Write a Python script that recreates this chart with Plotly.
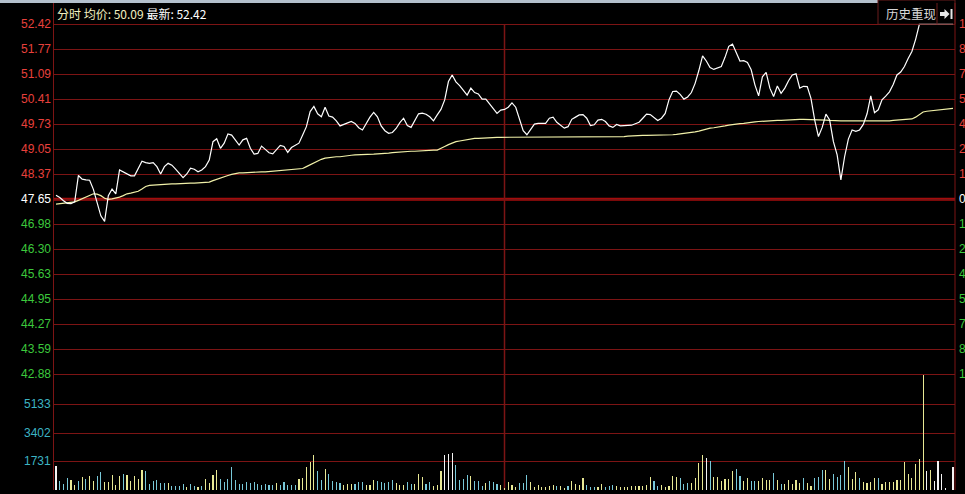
import plotly.graph_objects as go

W, H = 965, 494

# ---------------- data ----------------
prev_close = 47.65
limit_up = 52.42
limit_down = 42.88
avg_label = "50.09"
last_label = "52.42"

prices = [
    47.76, 47.70, 47.61, 47.54, 47.53, 47.58, 48.30, 48.20, 48.18, 48.17,
    47.92, 47.59, 47.20, 47.05, 47.75, 47.93, 47.80, 48.45, 48.40, 48.36,
    48.29, 48.29, 48.50, 48.69, 48.65, 48.63, 48.65, 48.54, 48.34, 48.54,
    48.63, 48.58, 48.47, 48.34, 48.24, 48.34, 48.50, 48.47, 48.40, 48.45,
    48.54, 48.72, 49.22, 49.30, 49.04, 49.18, 49.43, 49.40, 49.27, 49.13,
    49.27, 49.31, 49.04, 48.88, 48.90, 49.10, 49.01, 48.92, 48.89, 49.01,
    49.12, 49.09, 48.93, 49.06, 49.12, 49.18, 49.40, 49.63, 50.04, 50.18,
    49.98, 49.90, 50.16, 49.92, 49.89, 49.79, 49.65, 49.69, 49.73, 49.77,
    49.72, 49.60, 49.54, 49.72, 49.89, 50.02, 49.90, 49.65, 49.52, 49.45,
    49.47, 49.58, 49.74, 49.86, 49.66, 49.61, 49.81, 49.98, 50.00, 49.97,
    49.90, 49.79, 49.95, 50.10, 50.36, 50.86, 51.04, 50.85, 50.75, 50.63,
    50.49, 50.68, 50.56, 50.52, 50.38, 50.38, 50.25, 50.10, 49.99, 50.08,
    50.10, 50.16, 50.28, 50.16, 49.86, 49.52, 49.41, 49.54, 49.70, 49.72,
    49.72, 49.72, 49.86, 49.89, 49.75, 49.68, 49.59, 49.63, 49.83, 49.89,
    49.95, 49.96, 49.86, 49.66, 49.68, 49.81, 49.83, 49.77, 49.65, 49.61,
    49.69, 49.65, 49.65, 49.65, 49.67, 49.71, 49.75, 49.86, 49.97, 49.96,
    49.88, 49.80, 49.86, 49.99, 50.36, 50.59, 50.60, 50.51, 50.38, 50.44,
    50.56, 50.81, 51.16, 51.56, 51.42, 51.24, 51.19, 51.22, 51.27, 51.52,
    51.82, 51.88, 51.63, 51.42, 51.43, 51.38, 51.18, 50.77, 50.47, 50.99,
    51.11, 50.68, 50.45, 50.74, 50.54, 50.68, 50.88, 51.04, 51.07, 50.68,
    50.73, 50.72, 50.40, 49.81, 49.36, 49.61, 49.97, 49.81, 49.22, 48.86,
    48.18, 48.81, 49.29, 49.54, 49.50, 49.54, 49.69, 49.98, 50.47, 50.01,
    50.09, 50.36, 50.46, 50.58, 50.78, 51.04, 51.12, 51.27, 51.49, 51.68,
    52.01, 52.42, 52.42, 52.42, 52.42, 52.42, 52.42, 52.42, 52.42, 52.42,
    52.42,
]

avg_prices = [
    47.52, 47.53, 47.55, 47.56, 47.57, 47.58, 47.62, 47.67, 47.72, 47.77,
    47.80, 47.79, 47.75, 47.68, 47.65, 47.66, 47.68, 47.71, 47.75, 47.80,
    47.82, 47.84, 47.87, 47.93, 48.00, 48.03, 48.04, 48.05, 48.06, 48.07,
    48.07, 48.07, 48.07, 48.08, 48.08, 48.09, 48.09, 48.09, 48.10, 48.10,
    48.10, 48.12, 48.16, 48.20, 48.23, 48.26, 48.30, 48.33, 48.36, 48.37,
    48.37, 48.38, 48.38, 48.39, 48.40, 48.40, 48.40, 48.41, 48.42, 48.42,
    48.43, 48.44, 48.45, 48.46, 48.47, 48.48, 48.49, 48.54, 48.59, 48.65,
    48.71, 48.74, 48.77, 48.79, 48.80, 48.81, 48.81, 48.83, 48.84, 48.85,
    48.86, 48.86, 48.86, 48.86, 48.87, 48.88, 48.89, 48.89, 48.90, 48.91,
    48.92, 48.93, 48.94, 48.94, 48.95, 48.96, 48.96, 48.97, 48.98, 48.99,
    48.99, 48.99, 48.99, 49.03, 49.09, 49.14, 49.19, 49.22, 49.24, 49.26,
    49.28, 49.30, 49.31, 49.31, 49.32, 49.33, 49.33, 49.34, 49.34, 49.34,
    49.34, 49.34, 49.34, 49.34, 49.34, 49.34, 49.34, 49.34, 49.35, 49.36,
    49.36, 49.36, 49.36, 49.36, 49.36, 49.36, 49.36, 49.36, 49.36, 49.36,
    49.36, 49.36, 49.36, 49.36, 49.36, 49.36, 49.36, 49.36, 49.36, 49.36,
    49.36, 49.36, 49.36, 49.37, 49.38, 49.39, 49.39, 49.39, 49.39, 49.39,
    49.39, 49.39, 49.40, 49.40, 49.41, 49.41, 49.42, 49.43, 49.44, 49.45,
    49.47, 49.49, 49.51, 49.54, 49.57, 49.59, 49.60, 49.61, 49.63, 49.65,
    49.67, 49.69, 49.70, 49.71, 49.72, 49.74, 49.75, 49.76, 49.77, 49.78,
    49.79, 49.79, 49.79, 49.80, 49.80, 49.81, 49.81, 49.82, 49.82, 49.83,
    49.83, 49.83, 49.83, 49.83, 49.82, 49.81, 49.81, 49.80, 49.79, 49.79,
    49.79, 49.79, 49.79, 49.79, 49.78, 49.78, 49.77, 49.77, 49.78, 49.78,
    49.78, 49.79, 49.79, 49.79, 49.80, 49.81, 49.81, 49.82, 49.83, 49.84,
    49.89, 49.95, 50.03, 50.05, 50.06, 50.08, 50.09, 50.10, 50.11, 50.12,
    50.13,
]

volumes = [
    1440, 540, 360, 720, 600, 300, 540, 780, 660, 840,
    540, 820, 1080, 500, 500, 900, 300, 840, 960, 900,
    540, 840, 660, 1200, 1140, 360, 540, 600, 420, 420,
    420, 240, 240, 240, 360, 180, 360, 240, 180, 240,
    660, 420, 900, 1200, 660, 480, 660, 1380, 600, 360,
    360, 480, 420, 480, 360, 300, 360, 300, 300, 420,
    300, 480, 300, 300, 300, 660, 720, 1380, 1680, 2080,
    1140, 600, 1260, 960, 540, 480, 420, 300, 360, 360,
    360, 480, 480, 300, 300, 600, 540, 480, 420, 480,
    600, 420, 300, 300, 480, 360, 360, 960, 780, 360,
    480, 240, 300, 1140, 2100, 2160, 2220, 1500, 600, 660,
    900, 840, 540, 540, 240, 420, 540, 480, 360, 300,
    120, 480, 300, 180, 420, 420, 900, 480, 180, 300,
    180, 180, 240, 300, 240, 240, 120, 240, 540, 360,
    300, 720, 300, 180, 180, 180, 360, 180, 240, 300,
    240, 180, 180, 180, 240, 240, 240, 240, 300, 780,
    540, 240, 300, 180, 240, 840, 780, 720, 360, 420,
    420, 720, 1620, 2100, 1920, 1740, 780, 780, 540, 660,
    660, 1140, 1260, 840, 540, 720, 540, 540, 540, 720,
    600, 600, 1020, 600, 360, 360, 600, 360, 600, 420,
    720, 420, 240, 720, 780, 1200, 1200, 660, 960, 780,
    900, 1740, 1380, 660, 1080, 720, 480, 420, 480, 720,
    720, 360, 480, 480, 480, 600, 600, 1680, 960, 720,
    1560, 1860, 6864, 1140, 1200, 540, 1740, 960, 120, 0,
    1380,
]

# per-bar direction as shown by the bar colour: u = up, d = down, e = even
vol_side = [
    "e", "d", "d", "d", "u", "u", "d", "u", "d", "u",
    "u", "d", "d", "u", "u", "u", "u", "u", "d", "u",
    "u", "u", "u", "u", "d", "d", "d", "d", "d", "d",
    "u", "d", "d", "d", "d", "u", "d", "d", "u", "d",
    "u", "u", "u", "u", "d", "d", "d", "d", "d", "d",
    "d", "d", "d", "d", "d", "d", "d", "d", "d", "u",
    "d", "d", "d", "d", "d", "u", "u", "u", "u", "u",
    "d", "d", "u", "d", "d", "d", "d", "u", "u", "u",
    "d", "d", "d", "u", "u", "u", "d", "d", "d", "d",
    "d", "u", "u", "u", "d", "d", "u", "u", "u", "d",
    "d", "u", "u", "u", "e", "e", "e", "d", "d", "d",
    "d", "u", "d", "d", "d", "u", "d", "d", "d", "u",
    "u", "u", "u", "u", "d", "d", "d", "u", "u", "u",
    "u", "u", "u", "u", "d", "u", "u", "d", "u", "u",
    "u", "u", "d", "d", "d", "u", "u", "d", "d", "d",
    "u", "u", "u", "u", "u", "u", "u", "u", "u", "u",
    "d", "d", "u", "u", "u", "u", "u", "d", "d", "d",
    "u", "u", "u", "u", "e", "d", "u", "u", "u", "u",
    "u", "u", "d", "d", "u", "u", "d", "d", "u", "u",
    "u", "u", "d", "u", "d", "u", "u", "u", "u", "u",
    "d", "u", "u", "d", "d", "d", "u", "u", "d", "d",
    "d", "d", "u", "u", "u", "d", "u", "u", "u", "u",
    "d", "u", "u", "u", "u", "u", "u", "u", "u", "u",
    "u", "u", "u", "e", "u", "e", "e", "e", "e", "e",
    "e",
]

price_tick_labels = ["52.42", "51.77", "51.09", "50.41", "49.73", "49.05", "48.37",
                     "47.65",
                     "46.98", "46.30", "45.63", "44.95", "44.27", "43.59", "42.88"]
# right-hand percentage column: only the first character fits inside the window
pct_tick_labels = ["1", "8", "7", "5", "4", "2", "1",
                   "0",
                   "1", "2", "4", "5", "7", "8", "1"]
vol_tick_values = [1731, 3402, 5133]
vol_max = 6864
midday_index = 120

# ---------------- styling ----------------
BG = "#000000"
GRID = "#7c1414"
ZERO_LINE = "#a30c0c"
RED_TXT = "#e8403c"
GREEN_TXT = "#3cc83c"
CYAN_TXT = "#3cb4c4"
PRICE_COL = "#ffffff"
AVG_COL = "#f0f0a8"
side_colors = {"u": "#e8e894", "d": "#78c8d8", "e": "#f4f4f4"}
NUM_FONT = "Liberation Sans, Arial, sans-serif"
CJK_FONT = "Noto Sans CJK SC, sans-serif"


def px(x):
    return x / W


def py(y):
    return 1 - y / H


n = len(prices)
idx = list(range(n))

# pixel geometry of the panes
x_left, x_right = 53.5, 955.0
first_px, last_px = 56.0, 953.0
step = (last_px - first_px) / (n - 1)
x_range = [-(first_px - x_left) / step, (n - 1) + (x_right - last_px) / step]

top_px, bot_px = 24.3, 374.3
ppu = (bot_px - top_px) / (limit_up - limit_down)
pad = 0.1
price_dom = [py(bot_px + pad * ppu), py(top_px - pad * ppu)]
price_rng = [limit_down - pad, limit_up + pad]

vol_top_px, vol_bot_px = 375.0, 490.0
vol_dom = [py(vol_bot_px), py(vol_top_px)]

n_rows = (len(price_tick_labels) - 1) // 2
row = (limit_up - prev_close) / n_rows
price_tick_vals = [prev_close + k * row for k in range(n_rows, -n_rows - 1, -1)]

fig = go.Figure()

fig.add_trace(go.Bar(
    x=idx, y=volumes, xaxis="x2", yaxis="y2",
    marker=dict(color=[side_colors[s] for s in vol_side], line=dict(width=0)),
    width=0.3, hoverinfo="skip",
))
fig.add_trace(go.Scatter(
    x=idx, y=avg_prices, mode="lines", line=dict(color=AVG_COL, width=1.2),
    hoverinfo="skip",
))
fig.add_trace(go.Scatter(
    x=idx, y=prices, mode="lines", line=dict(color=PRICE_COL, width=1.2),
    hoverinfo="skip",
))

axis_common = dict(showticklabels=False, ticks="", zeroline=False, showline=False, fixedrange=True)
fig.update_layout(
    width=W, height=H, margin=dict(l=0, r=0, t=0, b=0),
    paper_bgcolor=BG, plot_bgcolor=BG, showlegend=False, bargap=0,
    xaxis=dict(domain=[px(x_left), px(x_right)], range=x_range, showgrid=False, anchor="y", **axis_common),
    yaxis=dict(domain=price_dom, range=price_rng, tickmode="array", tickvals=price_tick_vals,
               showgrid=True, gridcolor=GRID, gridwidth=1, anchor="x", **axis_common),
    xaxis2=dict(domain=[px(x_left), px(x_right)], range=x_range, showgrid=False, anchor="y2",
                matches="x", **axis_common),
    yaxis2=dict(domain=vol_dom, range=[0, vol_max], tickmode="array", tickvals=vol_tick_values,
                showgrid=True, gridcolor=GRID, gridwidth=1, anchor="x2", **axis_common),
)

shapes = []
# top light strip
shapes.append(dict(type="rect", xref="paper", yref="paper", x0=px(0), x1=px(878), y0=py(0), y1=py(3),
                   fillcolor="#b4c0cc", line=dict(width=0), layer="above"))
# previous close line (thick)
shapes.append(dict(type="line", xref="paper", yref="y", x0=px(x_left), x1=px(x_right),
                   y0=prev_close, y1=prev_close, line=dict(color=ZERO_LINE, width=3), layer="below"))
# volume pane bottom line
shapes.append(dict(type="line", xref="paper", yref="y2", x0=px(x_left), x1=px(x_right),
                   y0=0, y1=0, line=dict(color=GRID, width=1), layer="below"))
# borders
for xx in (x_left, x_right):
    shapes.append(dict(type="line", xref="paper", yref="paper", x0=px(xx), x1=px(xx),
                       y0=py(3), y1=py(vol_bot_px), line=dict(color=GRID, width=1)))
# midday separator, in the price pane and in the volume pane
shapes.append(dict(type="line", xref="x", yref="y", x0=midday_index, x1=midday_index,
                   y0=limit_down, y1=limit_up, line=dict(color=GRID, width=1.5), layer="below"))
shapes.append(dict(type="line", xref="x2", yref="y2", x0=midday_index, x1=midday_index,
                   y0=0, y1=vol_max, line=dict(color=GRID, width=1.5), layer="below"))
# history button box
shapes.append(dict(type="rect", xref="paper", yref="paper", x0=px(878), x1=px(955), y0=py(top_px), y1=py(0),
                   line=dict(color="#6a1c1c", width=1)))
shapes.append(dict(type="line", xref="paper", yref="paper", x0=px(937), x1=px(937), y0=py(top_px), y1=py(3),
                   line=dict(color="#6a1c1c", width=1)))
# arrow-to-bar icon
arrow = [(940, 12), (944.5, 12), (944.5, 9), (949.5, 14), (944.5, 19), (944.5, 16), (940, 16)]
path = "M " + " L ".join(f"{px(a)},{py(b)}" for a, b in arrow) + " Z"
shapes.append(dict(type="path", xref="paper", yref="paper", path=path, fillcolor="#e6e6e6",
                   line=dict(width=0)))
shapes.append(dict(type="rect", xref="paper", yref="paper", x0=px(950.5), x1=px(952.5), y0=py(19), y1=py(9),
                   fillcolor="#e6e6e6", line=dict(width=0)))
fig.update_layout(shapes=shapes)

ann = []
for val, lab, pct in zip(price_tick_vals, price_tick_labels, pct_tick_labels):
    lab_val = float(lab)
    if lab_val > prev_close:
        col = RED_TXT
    elif lab_val < prev_close:
        col = GREEN_TXT
    else:
        col = "#ffffff"
    ann.append(dict(x=px(52.5), xref="paper", y=val, yref="y", text=lab, showarrow=False,
                    xanchor="right", yanchor="middle", font=dict(family=NUM_FONT, size=12, color=col)))
    ann.append(dict(x=px(956.5), xref="paper", y=val, yref="y", text=pct, showarrow=False,
                    xanchor="left", yanchor="middle", font=dict(family=NUM_FONT, size=12, color=col)))
for v in vol_tick_values:
    ann.append(dict(x=px(52.5), xref="paper", y=v, yref="y2", text=str(v), showarrow=False,
                    xanchor="right", yanchor="middle", font=dict(family=NUM_FONT, size=12, color=CYAN_TXT)))

ann.append(dict(x=px(55), xref="paper", y=py(13.5), yref="paper", showarrow=False,
                xanchor="left", yanchor="middle",
                text=f"<span style='color:#f2f0c0'>分时 均价: {avg_label}</span> "
                     f"<span style='color:#ffffff'>最新: {last_label}</span>",
                font=dict(family=CJK_FONT, size=12, color="#ffffff")))
ann.append(dict(x=px(883.5), xref="paper", y=py(13.5), yref="paper", showarrow=False,
                xanchor="left", yanchor="middle", text="历史重现",
                font=dict(family=CJK_FONT, size=12.5, color="#d8d8d8")))
fig.update_layout(annotations=ann)

fig.write_html(
    "out.html",
    config={"displayModeBar": False, "staticPlot": True},
    post_script="document.body.style.margin='0';document.body.style.padding='0';document.body.style.overflow='hidden';",
)
